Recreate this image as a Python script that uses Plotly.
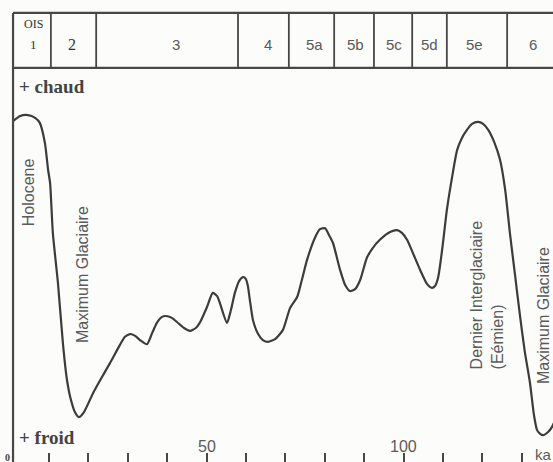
import plotly.graph_objects as go

# Age (ka) and relative temperature index (0 = coldest at bottom, 100 = top)
age_ka = [0.9, 2.7, 4.7, 6.5, 7.7, 9.0, 9.8, 10.3, 11.0, 12.3, 13.6, 14.6, 15.6, 16.6, 17.6,
          18.9, 21.2, 23.0, 25.5, 28.0, 29.3, 30.6, 31.9, 33.1, 34.9, 36.2, 37.4, 38.7, 39.7,
          41.2, 42.5, 44.3, 45.8, 47.3, 48.4, 50.1, 51.6, 52.7, 53.4, 55.2, 56.2, 57.2, 58.3,
          59.3, 60.0, 60.5, 61.0, 61.8, 63.1, 64.3, 65.6, 67.4, 69.4, 71.2, 73.0, 74.2, 75.5,
          77.5, 78.8, 80.1, 81.1, 82.1, 83.9, 85.2, 86.4, 87.7, 89.0, 90.7, 92.0, 94.0, 96.6,
          98.4, 99.6, 100.9, 102.4, 104.2, 106.0, 107.2, 108.0, 108.8, 109.8, 111.0, 112.3,
          113.6, 114.8, 116.1, 117.4, 118.9, 120.2, 121.5, 123.0, 124.5, 125.8, 127.0, 128.3,
          129.6, 130.8, 132.1, 133.1, 133.9, 134.7, 135.4, 136.7, 137.7, 138.7]
temp_index = [73.8, 74.9, 75.1, 74.5, 73.4, 69.0, 63.2, 60.4, 49.6, 38.7, 25.3, 17.7, 13.4, 10.8, 9.7,
              10.8, 14.9, 17.7, 21.4, 25.3, 27.1, 27.7, 27.3, 26.4, 25.5, 27.9, 30.1, 31.4, 31.6,
              31.2, 30.3, 29.0, 28.4, 29.0, 30.3, 33.5, 36.6, 35.9, 34.4, 30.1, 32.9, 36.6, 39.2,
              40.0, 39.6, 38.1, 35.1, 30.7, 27.7, 26.4, 26.0, 26.6, 28.6, 33.3, 35.7, 39.4, 43.7,
              48.5, 50.4, 50.6, 49.1, 47.4, 41.6, 38.3, 37.0, 37.4, 39.4, 44.2, 46.1, 48.1, 49.8,
              50.2, 49.6, 48.1, 45.2, 41.6, 38.5, 37.7, 38.1, 40.0, 45.9, 54.5, 61.5,
              67.5, 70.1, 71.9, 73.2, 73.6, 73.2, 71.9, 69.3, 65.4, 58.9, 49.6, 40.5,
              31.4, 23.8, 17.1, 10.2, 6.9, 6.1, 5.8, 6.5, 7.6, 9.5]

# Oxygen isotope stage (OIS) boundaries (ka) and labels
stage_bounds = [0.9, 10.5, 22.0, 58.0, 70.9, 82.4, 92.5, 102.2, 111.0, 126.3]
stage_labels = ["1", "2", "3", "4", "5a", "5b", "5c", "5d", "5e", "6"]
stage_label_pos = [6.0, 15.9, 42.3, 65.6, 77.3, 87.7, 97.6, 106.5, 118.1, 132.9]

tick_vals = list(range(10, 140, 10))
tick_label_vals = [50, 100]

X_MIN, X_MAX = -2.41, 137.94
Y_MIN, Y_MAX = 0, 100
BAND_TOP, BAND_BOTTOM = 97.2, 85.3

LINE = "#474747"
TXT = "#5a5a5a"
SERIF = "Liberation Serif"
SANS = "Liberation Sans"

fig = go.Figure()
fig.add_trace(go.Scatter(x=age_ka, y=temp_index, mode="lines",
                         line=dict(color="#3c3c3c", width=2.2, shape="spline", smoothing=0.6),
                         hoverinfo="skip", showlegend=False))

shapes = []
shapes.append(dict(type="line", xref="x", yref="y", x0=stage_bounds[0], x1=stage_bounds[0],
                   y0=Y_MIN, y1=BAND_TOP, line=dict(color=LINE, width=2.2)))
shapes.append(dict(type="line", xref="x", yref="y", x0=stage_bounds[0], x1=X_MAX + 5,
                   y0=BAND_TOP, y1=BAND_TOP, line=dict(color=LINE, width=2.2)))
shapes.append(dict(type="line", xref="x", yref="y", x0=stage_bounds[0], x1=X_MAX + 5,
                   y0=BAND_BOTTOM, y1=BAND_BOTTOM, line=dict(color=LINE, width=2.2)))
for b in stage_bounds[1:]:
    shapes.append(dict(type="line", xref="x", yref="y", x0=b, x1=b,
                       y0=BAND_BOTTOM, y1=BAND_TOP, line=dict(color=LINE, width=1.8)))

ann = []
band_mid = (BAND_TOP + BAND_BOTTOM) / 2
for lab, pos in zip(stage_labels, stage_label_pos):
    if lab == "1":
        ann.append(dict(x=pos, y=BAND_TOP - 2.4, text="OIS", showarrow=False,
                        font=dict(family=SERIF, size=12, color="#333")))
        ann.append(dict(x=pos, y=band_mid - 0.9, text="1", showarrow=False,
                        font=dict(family=SERIF, size=13, color="#333")))
    elif lab == "2":
        ann.append(dict(x=pos, y=band_mid - 0.8, text=lab, showarrow=False,
                        font=dict(family=SERIF, size=16, color="#333")))
    else:
        ann.append(dict(x=pos, y=band_mid - 0.8, text=lab, showarrow=False,
                        font=dict(family=SANS, size=15, color=TXT)))

ann.append(dict(x=1.9, y=81.2, text="<b>+ chaud</b>", showarrow=False, xanchor="left",
                font=dict(family=SERIF, size=19, color="#444")))
ann.append(dict(x=1.9, y=5.4, text="<b>+ froid</b>", showarrow=False, xanchor="left",
                font=dict(family=SERIF, size=19, color="#444")))

for v in tick_label_vals:
    ann.append(dict(x=v, y=3.4, text=str(v), showarrow=False,
                    font=dict(family=SANS, size=16, color=TXT)))
ann.append(dict(x=-0.6, y=1.0, text="<b>0</b>", showarrow=False,
                font=dict(family=SERIF, size=10, color="#444")))
ann.append(dict(x=135.6, y=1.6, text="ka", showarrow=False,
                font=dict(family=SANS, size=15, color=TXT)))

ann.append(dict(x=4.7, y=58.4, text="Holocene", textangle=-90, showarrow=False,
                font=dict(family=SANS, size=16, color=TXT)))
ann.append(dict(x=18.7, y=40.5, text="Maximum Glaciaire", textangle=-90, showarrow=False,
                font=dict(family=SANS, size=16, color=TXT)))
ann.append(dict(x=121.1, y=36.2, text="Dernier Interglaciaire<br>(Eémien)", textangle=-90,
                align="left", showarrow=False,
                font=dict(family=SANS, size=16, color=TXT)))
ann.append(dict(x=135.4, y=31.8, text="Maximum Glaciaire", textangle=-90, showarrow=False,
                font=dict(family=SANS, size=16, color=TXT)))

fig.update_layout(
    width=553, height=462,
    margin=dict(l=0, r=0, t=0, b=0),
    paper_bgcolor="#fcfcfa", plot_bgcolor="#fcfcfa",
    shapes=shapes, annotations=ann,
    xaxis=dict(range=[X_MIN, X_MAX], showgrid=False, zeroline=False, showline=False,
               tickmode="array", tickvals=tick_vals, ticks="inside", ticklen=9,
               tickwidth=2, tickcolor=LINE, showticklabels=False, fixedrange=True),
    yaxis=dict(range=[Y_MIN, Y_MAX], showgrid=False, zeroline=False, showline=False,
               showticklabels=False, ticks="", fixedrange=True),
)

fig.write_html("out.html", config={"displayModeBar": False},
               post_script="document.body.style.margin='0';document.body.style.overflow='hidden';")
